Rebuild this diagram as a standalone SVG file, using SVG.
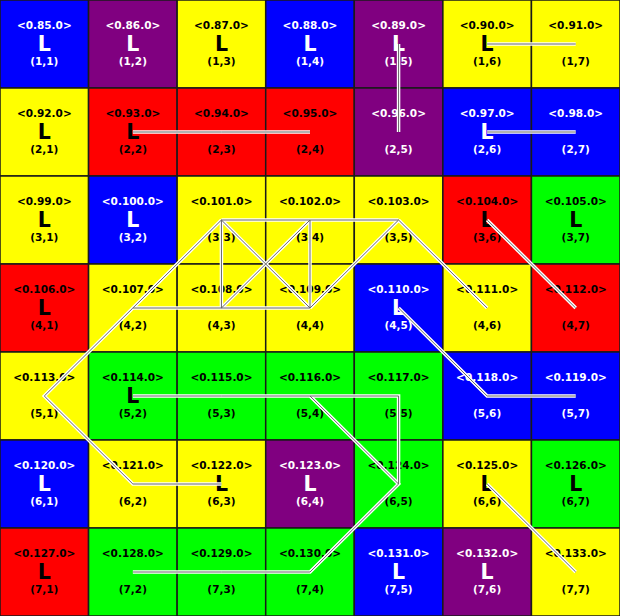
<svg xmlns="http://www.w3.org/2000/svg" xmlns:xlink="http://www.w3.org/1999/xlink" width="620" height="616" viewBox="0 0 620 616">
<style>
.cell rect{stroke:#1a1a1a;stroke-width:1.5}
.b{fill:#0000ff}.p{fill:#800080}.y{fill:#ffff00}.r{fill:#ff0000}.g{fill:#00ff00}
text{font-family:"DejaVu Sans","Liberation Sans",sans-serif;font-weight:bold;text-anchor:middle}
.lb{font-size:10.5px}.big{font-size:20.5px}.co{font-size:10.5px}
.dk text{fill:#000}.lt text{fill:#fff}
.edges{fill:none;stroke-linecap:butt;stroke-linejoin:miter}
</style>
<defs>
<g id="edgeset">
<path id="e1" d="M487.14,44 L575.71,44"/>
<path id="e2" d="M398.57,44 L398.57,132"/>
<path id="e3" d="M132.86,132 L221.43,132 L310,132"/>
<path id="e4" d="M487.14,132 L575.71,132"/>
<path id="e5" d="M487.14,220 L575.71,308"/>
<path id="e6" d="M221.43,220 L310,220 L398.57,220"/>
<path id="e7" d="M221.43,220 L221.43,308"/>
<path id="e8" d="M310,220 L310,308"/>
<path id="e9" d="M221.43,220 L310,308"/>
<path id="e10" d="M310,220 L221.43,308"/>
<path id="e11" d="M398.57,220 L310,308"/>
<path id="e12" d="M398.57,220 L487.14,308"/>
<path id="e13" d="M132.86,308 L221.43,308 L310,308"/>
<path id="e14" d="M221.43,220 L132.86,308 L44.29,396 L132.86,484 L221.43,484"/>
<path id="e15" d="M398.57,308 L487.14,396 L575.71,396"/>
<path id="e16" d="M132.86,396 L221.43,396 L310,396 L398.57,396 L398.57,484"/>
<path id="e17" d="M310,396 L398.57,484 L310,572 L221.43,572 L132.86,572"/>
<path id="e18" d="M487.14,484 L575.71,572"/>
</g>
</defs>
<g id="cells">
<g id="c1_1" class="cell lt"><rect class="b" x="0" y="0" width="88.57" height="88"/><text class="lb" x="44.29" y="29">&lt;0.85.0&gt;</text><text class="big" x="44.29" y="51">L</text><text class="co" x="44.29" y="65">(1,1)</text></g>
<g id="c1_2" class="cell lt"><rect class="p" x="88.57" y="0" width="88.57" height="88"/><text class="lb" x="132.86" y="29">&lt;0.86.0&gt;</text><text class="big" x="132.86" y="51">L</text><text class="co" x="132.86" y="65">(1,2)</text></g>
<g id="c1_3" class="cell dk"><rect class="y" x="177.14" y="0" width="88.57" height="88"/><text class="lb" x="221.43" y="29">&lt;0.87.0&gt;</text><text class="big" x="221.43" y="51">L</text><text class="co" x="221.43" y="65">(1,3)</text></g>
<g id="c1_4" class="cell lt"><rect class="b" x="265.71" y="0" width="88.57" height="88"/><text class="lb" x="310" y="29">&lt;0.88.0&gt;</text><text class="big" x="310" y="51">L</text><text class="co" x="310" y="65">(1,4)</text></g>
<g id="c1_5" class="cell lt"><rect class="p" x="354.29" y="0" width="88.57" height="88"/><text class="lb" x="398.57" y="29">&lt;0.89.0&gt;</text><text class="big" x="398.57" y="51">L</text><text class="co" x="398.57" y="65">(1,5)</text></g>
<g id="c1_6" class="cell dk"><rect class="y" x="442.86" y="0" width="88.57" height="88"/><text class="lb" x="487.14" y="29">&lt;0.90.0&gt;</text><text class="big" x="487.14" y="51">L</text><text class="co" x="487.14" y="65">(1,6)</text></g>
<g id="c1_7" class="cell dk"><rect class="y" x="531.43" y="0" width="88.57" height="88"/><text class="lb" x="575.71" y="29">&lt;0.91.0&gt;</text><text class="co" x="575.71" y="65">(1,7)</text></g>

<g id="c2_1" class="cell dk"><rect class="y" x="0" y="88" width="88.57" height="88"/><text class="lb" x="44.29" y="117">&lt;0.92.0&gt;</text><text class="big" x="44.29" y="139">L</text><text class="co" x="44.29" y="153">(2,1)</text></g>
<g id="c2_2" class="cell dk"><rect class="r" x="88.57" y="88" width="88.57" height="88"/><text class="lb" x="132.86" y="117">&lt;0.93.0&gt;</text><text class="big" x="132.86" y="139">L</text><text class="co" x="132.86" y="153">(2,2)</text></g>
<g id="c2_3" class="cell dk"><rect class="r" x="177.14" y="88" width="88.57" height="88"/><text class="lb" x="221.43" y="117">&lt;0.94.0&gt;</text><text class="co" x="221.43" y="153">(2,3)</text></g>
<g id="c2_4" class="cell dk"><rect class="r" x="265.71" y="88" width="88.57" height="88"/><text class="lb" x="310" y="117">&lt;0.95.0&gt;</text><text class="co" x="310" y="153">(2,4)</text></g>
<g id="c2_5" class="cell lt"><rect class="p" x="354.29" y="88" width="88.57" height="88"/><text class="lb" x="398.57" y="117">&lt;0.96.0&gt;</text><text class="co" x="398.57" y="153">(2,5)</text></g>
<g id="c2_6" class="cell lt"><rect class="b" x="442.86" y="88" width="88.57" height="88"/><text class="lb" x="487.14" y="117">&lt;0.97.0&gt;</text><text class="big" x="487.14" y="139">L</text><text class="co" x="487.14" y="153">(2,6)</text></g>
<g id="c2_7" class="cell lt"><rect class="b" x="531.43" y="88" width="88.57" height="88"/><text class="lb" x="575.71" y="117">&lt;0.98.0&gt;</text><text class="co" x="575.71" y="153">(2,7)</text></g>

<g id="c3_1" class="cell dk"><rect class="y" x="0" y="176" width="88.57" height="88"/><text class="lb" x="44.29" y="205">&lt;0.99.0&gt;</text><text class="big" x="44.29" y="227">L</text><text class="co" x="44.29" y="241">(3,1)</text></g>
<g id="c3_2" class="cell lt"><rect class="b" x="88.57" y="176" width="88.57" height="88"/><text class="lb" x="132.86" y="205">&lt;0.100.0&gt;</text><text class="big" x="132.86" y="227">L</text><text class="co" x="132.86" y="241">(3,2)</text></g>
<g id="c3_3" class="cell dk"><rect class="y" x="177.14" y="176" width="88.57" height="88"/><text class="lb" x="221.43" y="205">&lt;0.101.0&gt;</text><text class="co" x="221.43" y="241">(3,3)</text></g>
<g id="c3_4" class="cell dk"><rect class="y" x="265.71" y="176" width="88.57" height="88"/><text class="lb" x="310" y="205">&lt;0.102.0&gt;</text><text class="co" x="310" y="241">(3,4)</text></g>
<g id="c3_5" class="cell dk"><rect class="y" x="354.29" y="176" width="88.57" height="88"/><text class="lb" x="398.57" y="205">&lt;0.103.0&gt;</text><text class="co" x="398.57" y="241">(3,5)</text></g>
<g id="c3_6" class="cell dk"><rect class="r" x="442.86" y="176" width="88.57" height="88"/><text class="lb" x="487.14" y="205">&lt;0.104.0&gt;</text><text class="big" x="487.14" y="227">L</text><text class="co" x="487.14" y="241">(3,6)</text></g>
<g id="c3_7" class="cell dk"><rect class="g" x="531.43" y="176" width="88.57" height="88"/><text class="lb" x="575.71" y="205">&lt;0.105.0&gt;</text><text class="big" x="575.71" y="227">L</text><text class="co" x="575.71" y="241">(3,7)</text></g>

<g id="c4_1" class="cell dk"><rect class="r" x="0" y="264" width="88.57" height="88"/><text class="lb" x="44.29" y="293">&lt;0.106.0&gt;</text><text class="big" x="44.29" y="315">L</text><text class="co" x="44.29" y="329">(4,1)</text></g>
<g id="c4_2" class="cell dk"><rect class="y" x="88.57" y="264" width="88.57" height="88"/><text class="lb" x="132.86" y="293">&lt;0.107.0&gt;</text><text class="co" x="132.86" y="329">(4,2)</text></g>
<g id="c4_3" class="cell dk"><rect class="y" x="177.14" y="264" width="88.57" height="88"/><text class="lb" x="221.43" y="293">&lt;0.108.0&gt;</text><text class="co" x="221.43" y="329">(4,3)</text></g>
<g id="c4_4" class="cell dk"><rect class="y" x="265.71" y="264" width="88.57" height="88"/><text class="lb" x="310" y="293">&lt;0.109.0&gt;</text><text class="co" x="310" y="329">(4,4)</text></g>
<g id="c4_5" class="cell lt"><rect class="b" x="354.29" y="264" width="88.57" height="88"/><text class="lb" x="398.57" y="293">&lt;0.110.0&gt;</text><text class="big" x="398.57" y="315">L</text><text class="co" x="398.57" y="329">(4,5)</text></g>
<g id="c4_6" class="cell dk"><rect class="y" x="442.86" y="264" width="88.57" height="88"/><text class="lb" x="487.14" y="293">&lt;0.111.0&gt;</text><text class="co" x="487.14" y="329">(4,6)</text></g>
<g id="c4_7" class="cell dk"><rect class="r" x="531.43" y="264" width="88.57" height="88"/><text class="lb" x="575.71" y="293">&lt;0.112.0&gt;</text><text class="co" x="575.71" y="329">(4,7)</text></g>

<g id="c5_1" class="cell dk"><rect class="y" x="0" y="352" width="88.57" height="88"/><text class="lb" x="44.29" y="381">&lt;0.113.0&gt;</text><text class="co" x="44.29" y="417">(5,1)</text></g>
<g id="c5_2" class="cell dk"><rect class="g" x="88.57" y="352" width="88.57" height="88"/><text class="lb" x="132.86" y="381">&lt;0.114.0&gt;</text><text class="big" x="132.86" y="403">L</text><text class="co" x="132.86" y="417">(5,2)</text></g>
<g id="c5_3" class="cell dk"><rect class="g" x="177.14" y="352" width="88.57" height="88"/><text class="lb" x="221.43" y="381">&lt;0.115.0&gt;</text><text class="co" x="221.43" y="417">(5,3)</text></g>
<g id="c5_4" class="cell dk"><rect class="g" x="265.71" y="352" width="88.57" height="88"/><text class="lb" x="310" y="381">&lt;0.116.0&gt;</text><text class="co" x="310" y="417">(5,4)</text></g>
<g id="c5_5" class="cell dk"><rect class="g" x="354.29" y="352" width="88.57" height="88"/><text class="lb" x="398.57" y="381">&lt;0.117.0&gt;</text><text class="co" x="398.57" y="417">(5,5)</text></g>
<g id="c5_6" class="cell lt"><rect class="b" x="442.86" y="352" width="88.57" height="88"/><text class="lb" x="487.14" y="381">&lt;0.118.0&gt;</text><text class="co" x="487.14" y="417">(5,6)</text></g>
<g id="c5_7" class="cell lt"><rect class="b" x="531.43" y="352" width="88.57" height="88"/><text class="lb" x="575.71" y="381">&lt;0.119.0&gt;</text><text class="co" x="575.71" y="417">(5,7)</text></g>

<g id="c6_1" class="cell lt"><rect class="b" x="0" y="440" width="88.57" height="88"/><text class="lb" x="44.29" y="469">&lt;0.120.0&gt;</text><text class="big" x="44.29" y="491">L</text><text class="co" x="44.29" y="505">(6,1)</text></g>
<g id="c6_2" class="cell dk"><rect class="y" x="88.57" y="440" width="88.57" height="88"/><text class="lb" x="132.86" y="469">&lt;0.121.0&gt;</text><text class="co" x="132.86" y="505">(6,2)</text></g>
<g id="c6_3" class="cell dk"><rect class="y" x="177.14" y="440" width="88.57" height="88"/><text class="lb" x="221.43" y="469">&lt;0.122.0&gt;</text><text class="big" x="221.43" y="491">L</text><text class="co" x="221.43" y="505">(6,3)</text></g>
<g id="c6_4" class="cell lt"><rect class="p" x="265.71" y="440" width="88.57" height="88"/><text class="lb" x="310" y="469">&lt;0.123.0&gt;</text><text class="big" x="310" y="491">L</text><text class="co" x="310" y="505">(6,4)</text></g>
<g id="c6_5" class="cell dk"><rect class="g" x="354.29" y="440" width="88.57" height="88"/><text class="lb" x="398.57" y="469">&lt;0.124.0&gt;</text><text class="co" x="398.57" y="505">(6,5)</text></g>
<g id="c6_6" class="cell dk"><rect class="y" x="442.86" y="440" width="88.57" height="88"/><text class="lb" x="487.14" y="469">&lt;0.125.0&gt;</text><text class="big" x="487.14" y="491">L</text><text class="co" x="487.14" y="505">(6,6)</text></g>
<g id="c6_7" class="cell dk"><rect class="g" x="531.43" y="440" width="88.57" height="88"/><text class="lb" x="575.71" y="469">&lt;0.126.0&gt;</text><text class="big" x="575.71" y="491">L</text><text class="co" x="575.71" y="505">(6,7)</text></g>

<g id="c7_1" class="cell dk"><rect class="r" x="0" y="528" width="88.57" height="88"/><text class="lb" x="44.29" y="557">&lt;0.127.0&gt;</text><text class="big" x="44.29" y="579">L</text><text class="co" x="44.29" y="593">(7,1)</text></g>
<g id="c7_2" class="cell dk"><rect class="g" x="88.57" y="528" width="88.57" height="88"/><text class="lb" x="132.86" y="557">&lt;0.128.0&gt;</text><text class="co" x="132.86" y="593">(7,2)</text></g>
<g id="c7_3" class="cell dk"><rect class="g" x="177.14" y="528" width="88.57" height="88"/><text class="lb" x="221.43" y="557">&lt;0.129.0&gt;</text><text class="co" x="221.43" y="593">(7,3)</text></g>
<g id="c7_4" class="cell dk"><rect class="g" x="265.71" y="528" width="88.57" height="88"/><text class="lb" x="310" y="557">&lt;0.130.0&gt;</text><text class="co" x="310" y="593">(7,4)</text></g>
<g id="c7_5" class="cell lt"><rect class="b" x="354.29" y="528" width="88.57" height="88"/><text class="lb" x="398.57" y="557">&lt;0.131.0&gt;</text><text class="big" x="398.57" y="579">L</text><text class="co" x="398.57" y="593">(7,5)</text></g>
<g id="c7_6" class="cell lt"><rect class="p" x="442.86" y="528" width="88.57" height="88"/><text class="lb" x="487.14" y="557">&lt;0.132.0&gt;</text><text class="big" x="487.14" y="579">L</text><text class="co" x="487.14" y="593">(7,6)</text></g>
<g id="c7_7" class="cell dk"><rect class="y" x="531.43" y="528" width="88.57" height="88"/><text class="lb" x="575.71" y="557">&lt;0.133.0&gt;</text><text class="co" x="575.71" y="593">(7,7)</text></g>
</g>
<g id="connectors" class="edges">
<use xlink:href="#edgeset" href="#edgeset" stroke="#ffffff" stroke-width="3.5"/>
<use xlink:href="#edgeset" href="#edgeset" stroke="#666666" stroke-width="1"/>
</g>
</svg>
